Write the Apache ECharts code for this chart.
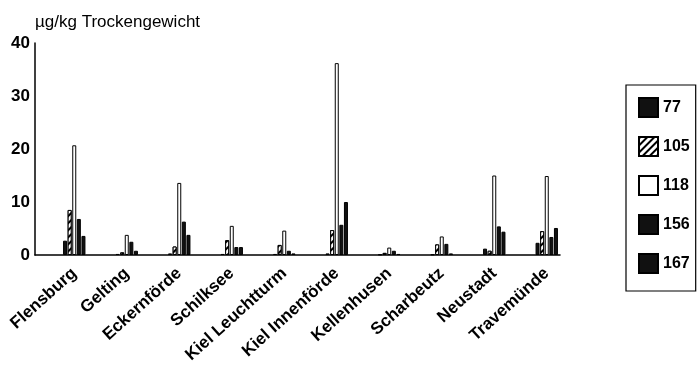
<!DOCTYPE html>
<html>
<head>
<meta charset="utf-8">
<script src="https://cdn.jsdelivr.net/npm/echarts@6/dist/echarts.min.js"></script>
<style>html,body{margin:0;padding:0;background:#fff;}#c{width:698px;height:369px;}</style>
</head>
<body>
<div id="c"></div>
<script>
const categories = ['Flensburg','Gelting','Eckernförde','Schilksee','Kiel Leuchtturm','Kiel Innenförde','Kellenhusen','Scharbeutz','Neustadt','Travemünde'];
const seriesNames = ['77','105','118','156','167'];
const s77  = [2.7, 0.2, 0.3, 0.2, 0.2, 0.3, 0.1, 0.1, 1.2, 2.3];
const s105 = [8.5, 0.5, 1.6, 2.8, 1.9, 4.7, 0.4, 2.0, 0.8, 4.5];
const s118 = [20.7, 3.8, 13.6, 5.5, 4.6, 36.2, 1.4, 3.5, 15.0, 14.9];
const s156 = [6.8, 2.5, 6.3, 1.5, 0.8, 5.7, 0.8, 2.1, 5.4, 3.4];
const s167 = [3.6, 0.8, 3.8, 1.5, 0.3, 10.0, 0.2, 0.3, 4.4, 5.1];
const yTicks = [0, 10, 20, 30, 40];
const titleText = 'µg/kg Trockengewicht';

const font = 'Liberation Sans, Arial, sans-serif';
const black = {color:'#111', borderColor:'#000', borderWidth:1};
const white = {color:'#fff', borderColor:'#000', borderWidth:1};
const hatch = {color:'#fff', borderColor:'#000', borderWidth:1,
  decal:{symbol:'rect', symbolSize:1, dashArrayX:[[1,0]], dashArrayY:[2,3], rotation:-Math.PI/4, color:'#000', backgroundColor:'#fff'}};
const styles = [black, hatch, white, black, black];
const values = [s77, s105, s118, s156, s167];

const chart = echarts.init(document.getElementById('c'), null, {renderer:'canvas'});
chart.setOption({
  animation:false,
  backgroundColor:'#fff',
  title:{text:titleText, left:30, top:9, textStyle:{fontFamily:font, fontSize:17, fontWeight:'normal', color:'#000'}},
  legend:{
    orient:'vertical', left:626, top:85,
    padding:[12,6,17,12],
    itemWidth:19, itemHeight:19, itemGap:18,
    borderColor:'#000', borderWidth:1.2,
    data:seriesNames,
    icon:'rect',
    textStyle:{fontFamily:font, fontSize:16, fontWeight:'bold', color:'#000'}
  },
  grid:[
    {left:48, right:125, top:43, bottom:114, containLabel:false},
    {left:35, right:138, top:43, bottom:114, containLabel:false}
  ],
  xAxis:[
    {type:'category', gridIndex:0, data:categories, boundaryGap:true,
     axisLine:{show:false}, axisTick:{show:false},
     axisLabel:{rotate:42, margin:16, interval:0, fontFamily:font, fontSize:17, fontWeight:'bold', color:'#000'}},
    {type:'value', gridIndex:1, min:0, max:1, axisLine:{show:true, lineStyle:{color:'#000', width:1.5}},
     axisTick:{show:false}, axisLabel:{show:false}, splitLine:{show:false}}
  ],
  yAxis:[
    {type:'value', gridIndex:0, min:yTicks[0], max:yTicks[yTicks.length-1], interval:10, offset:13,
     axisLine:{show:true, lineStyle:{color:'#000', width:1.5}}, axisTick:{show:false},
     splitLine:{show:false},
     axisLabel:{margin:5, fontFamily:font, fontSize:17, fontWeight:'bold', color:'#000'}},
    {type:'value', gridIndex:1, min:0, max:1, show:false}
  ],
  series: seriesNames.map((n,i)=>({
    name:n, type:'bar', xAxisIndex:0, yAxisIndex:0,
    data:values[i], barWidth:4, barGap:'15%',
    itemStyle:styles[i]
  }))
});
</script>
</body>
</html>
